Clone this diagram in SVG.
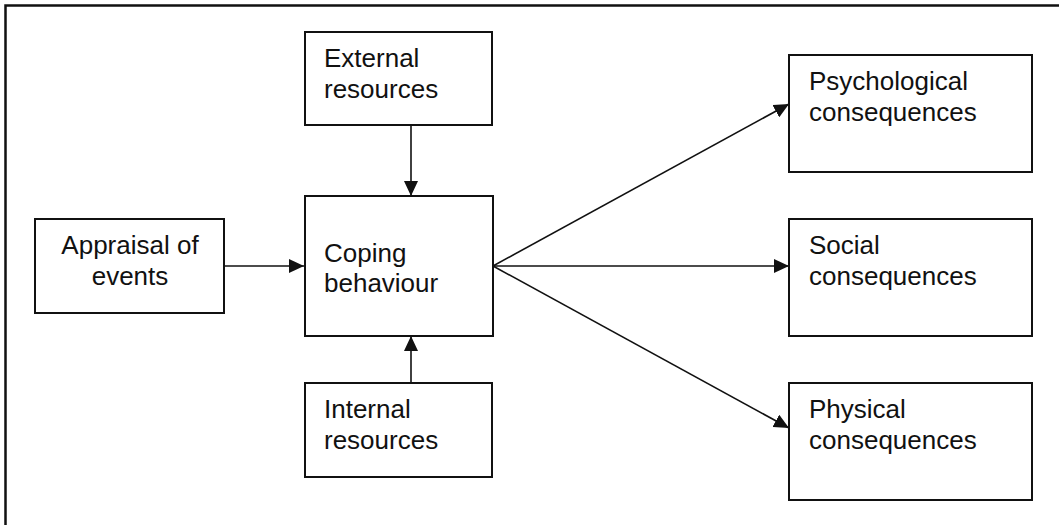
<svg xmlns="http://www.w3.org/2000/svg" width="1059" height="525" viewBox="0 0 1059 525">
  <style>
    .box { fill: #ffffff; stroke: #111111; stroke-width: 2; }
    .lbl { font-family: "Liberation Sans", Arial, sans-serif; font-size: 26px; fill: #111111; }
    .mid { text-anchor: middle; }
    .edge { fill: none; stroke: #111111; stroke-width: 1.6; marker-end: url(#head); }
    .frame { fill: none; stroke: #111111; stroke-width: 2.5; }
  </style>
  <defs>
    <marker id="head" markerUnits="userSpaceOnUse" markerWidth="15" markerHeight="14" refX="15" refY="7" orient="auto">
      <path d="M0,0 L15,7 L0,14 Z" fill="#111111"/>
    </marker>
  </defs>

  <rect width="1059" height="525" fill="#ffffff"/>
  <!-- page frame: only the top and left edges fall inside the canvas -->
  <path class="frame" d="M5.5,525 V5.5 H1059"/>

  <g id="connectors">
    <line class="edge" x1="411" y1="125" x2="411" y2="196"/>
    <line class="edge" x1="411" y1="383" x2="411" y2="336"/>
    <line class="edge" x1="224" y1="266" x2="304" y2="266"/>
    <line class="edge" x1="493" y1="266" x2="789" y2="104"/>
    <line class="edge" x1="493" y1="266" x2="789" y2="266"/>
    <line class="edge" x1="493" y1="266" x2="789" y2="428"/>
  </g>

  <g id="external-resources">
    <rect class="box" x="305" y="32" width="187" height="93"/>
    <text class="lbl" x="324" y="67">External</text>
    <text class="lbl" x="324" y="98">resources</text>
  </g>

  <g id="coping-behaviour">
    <rect class="box" x="305" y="196" width="188" height="140"/>
    <text class="lbl" x="324" y="262">Coping</text>
    <text class="lbl" x="324" y="292">behaviour</text>
  </g>

  <g id="internal-resources">
    <rect class="box" x="305" y="383" width="187" height="94"/>
    <text class="lbl" x="324" y="418">Internal</text>
    <text class="lbl" x="324" y="449">resources</text>
  </g>

  <g id="appraisal-of-events">
    <rect class="box" x="35" y="219" width="189" height="94"/>
    <text class="lbl mid" x="130" y="254">Appraisal of</text>
    <text class="lbl mid" x="130" y="285">events</text>
  </g>

  <g id="psychological-consequences">
    <rect class="box" x="789" y="55" width="243" height="117"/>
    <text class="lbl" x="809" y="90">Psychological</text>
    <text class="lbl" x="809" y="121">consequences</text>
  </g>

  <g id="social-consequences">
    <rect class="box" x="789" y="219" width="243" height="117"/>
    <text class="lbl" x="809" y="254">Social</text>
    <text class="lbl" x="809" y="285">consequences</text>
  </g>

  <g id="physical-consequences">
    <rect class="box" x="789" y="383" width="243" height="117"/>
    <text class="lbl" x="809" y="418">Physical</text>
    <text class="lbl" x="809" y="449">consequences</text>
  </g>
</svg>
